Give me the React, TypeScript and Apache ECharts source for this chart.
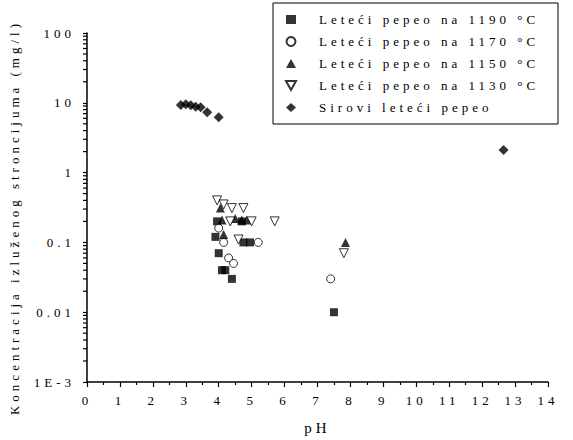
import React, { useEffect, useRef } from "react";
import * as echarts from "echarts";

const seriesNames = [
  "Leteći pepeo na 1190 °C",
  "Leteći pepeo na 1170 °C",
  "Leteći pepeo na 1150 °C",
  "Leteći pepeo na 1130 °C",
  "Sirovi leteći pepeo",
];

// [pH, concentration mg/l]
const ash1190 = [
  [3.9, 0.12], [3.95, 0.2], [4.0, 0.07], [4.1, 0.04], [4.2, 0.04], [4.4, 0.03],
  [4.7, 0.2], [4.75, 0.1], [4.95, 0.1], [7.5, 0.01],
];
const ash1170 = [
  [4.0, 0.16], [4.15, 0.1], [4.3, 0.06], [4.45, 0.05], [5.2, 0.1], [7.4, 0.03],
];
const ash1150 = [
  [4.05, 0.31], [4.1, 0.21], [4.15, 0.13], [4.5, 0.22], [4.7, 0.21], [4.85, 0.21], [7.85, 0.1],
];
const ash1130 = [
  [3.95, 0.4], [4.15, 0.35], [4.4, 0.31], [4.75, 0.31], [4.35, 0.2], [5.0, 0.2],
  [5.7, 0.2], [4.6, 0.11], [7.8, 0.07],
];
const rawAsh = [
  [2.85, 9.3], [3.0, 9.5], [3.15, 9.2], [3.3, 8.8], [3.45, 8.6], [3.65, 7.3], [4.0, 6.2], [12.65, 2.1],
];

const yTickLabels = ["1E-3", "0.01", "0.1", "1", "10", "100"];
const decades = [0.001, 0.01, 0.1, 1, 10];
const minorMultipliers = [2, 3, 4, 5, 6, 7, 8, 9];

const FONT = "Liberation Serif";

export default function App() {
  const ref = useRef<HTMLDivElement>(null);
  useEffect(() => {
    const chart = echarts.init(ref.current!, null, { renderer: "svg" });
    const minorVals: number[][] = [];
    decades.forEach((d) => minorMultipliers.forEach((m) => minorVals.push([0, d * m])));

    const base = {
      type: "scatter",
      emphasis: { disabled: true },
    };

    const option: any = {
      animation: false,
      backgroundColor: "#fff",
      textStyle: { fontFamily: FONT, color: "#000" },
      grid: { left: 87, right: 25, top: 33, bottom: 52, containLabel: false },
      xAxis: {
        type: "value",
        min: 0,
        max: 14,
        interval: 1,
        name: "pH",
        nameLocation: "middle",
        nameGap: 38,
        nameTextStyle: { fontFamily: FONT, fontSize: 15, color: "#000" },
        axisLine: { lineStyle: { color: "#000", width: 1.5 } },
        axisTick: { show: true, length: 5, lineStyle: { color: "#000", width: 1.2 } },
        minorTick: { show: true, splitNumber: 2, length: 3, lineStyle: { color: "#000", width: 1.2 } },
        axisLabel: { margin: 12, fontFamily: FONT, fontSize: 13, color: "#000" },
        splitLine: { show: false },
      },
      yAxis: {
        type: "log",
        logBase: 10,
        min: 0.001,
        max: 100,
        splitNumber: 5,
        name: "Koncentracija izluženog stroncijuma (mg/l)",
        nameLocation: "middle",
        nameGap: 66,
        nameTextStyle: { fontFamily: FONT, fontSize: 13, color: "#000", padding: [0, 20, 0, 0] },
        axisLine: { show: true, lineStyle: { color: "#000", width: 1.5 } },
        axisTick: { show: true, length: 4, lineStyle: { color: "#000", width: 1.2 } },
        axisLabel: {
          margin: 12,
          fontFamily: FONT,
          fontSize: 13,
          color: "#000",
          formatter: (v: number) => {
            const e = Math.round(Math.log10(v));
            return yTickLabels[e + 3] ?? "";
          },
        },
        splitLine: { show: false },
      },
      legend: {
        orient: "vertical",
        left: 273,
        top: 3,
        data: seriesNames,
        padding: [10, 10, 10, 12],
        itemWidth: 10,
        itemHeight: 9,
        itemGap: 9,
        borderColor: "#000",
        borderWidth: 1,
        backgroundColor: "#fff",
        selectedMode: false,
        textStyle: {
          fontFamily: FONT,
          fontSize: 13,
          color: "#000",
          lineHeight: 9,
          padding: [0, 0, 0, 18],
          width: 229,
        },
      },
      series: [
        {
          type: "custom",
          name: "minorTicks",
          coordinateSystem: "cartesian2d",
          silent: true,
          clip: false,
          data: minorVals,
          encode: { x: 0, y: 1 },
          renderItem: (params: any, api: any) => {
            const p = api.coord([0, api.value(1)]);
            return {
              type: "line",
              shape: { x1: p[0] - 4, y1: p[1], x2: p[0], y2: p[1] },
              style: { stroke: "#000", lineWidth: 1.2 },
            };
          },
        },
        {
          ...base,
          name: seriesNames[0],
          data: ash1190,
          symbol: "rect",
          symbolSize: 8,
          itemStyle: { color: "#000" },
        },
        {
          ...base,
          name: seriesNames[1],
          data: ash1170,
          symbol: "circle",
          symbolSize: 8,
          itemStyle: { color: "#fff", borderColor: "#000", borderWidth: 1 },
        },
        {
          ...base,
          name: seriesNames[2],
          data: ash1150,
          symbol: "triangle",
          symbolSize: 9,
          itemStyle: { color: "#000" },
        },
        {
          ...base,
          name: seriesNames[3],
          data: ash1130,
          symbol: "path://M0,0L10,0L5,9Z",
          symbolSize: 9,
          itemStyle: { color: "#fff", borderColor: "#000", borderWidth: 1 },
        },
        {
          ...base,
          name: seriesNames[4],
          data: rawAsh,
          symbol: "diamond",
          symbolSize: 10,
          itemStyle: { color: "#000" },
        },
      ],
    };
    chart.setOption(option);
    return () => chart.dispose();
  }, []);

  return (
    <>
      <style>{`body{margin:0} .chart text{letter-spacing:4px; font-family:'Liberation Serif','Times New Roman',serif !important}`}</style>
      <div
        ref={ref}
        className="chart"
        style={{ position: "absolute", left: 0, top: 0, width: 573, height: 440, background: "#fff" }}
      />
    </>
  );
}
